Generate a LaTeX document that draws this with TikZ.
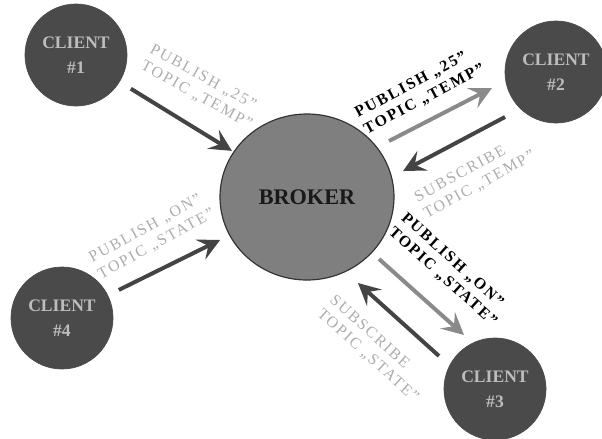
\documentclass[tikz,border=0pt]{standalone}
\usepackage{fontspec}
\setmainfont{Liberation Serif}
\newfontfamily\msgfont[LetterSpace=12]{Liberation Serif}
\usetikzlibrary{arrows.meta,shapes.geometric}

\definecolor{clientfill}{HTML}{4A4A4A}
\definecolor{clienttext}{HTML}{BDBDBD}
\definecolor{brokerfill}{HTML}{7F7F7F}
\definecolor{arrowdark}{HTML}{444444}
\definecolor{arrowlight}{HTML}{8A8A8A}
\definecolor{msggray}{HTML}{ADADAD}

\begin{document}
\begin{tikzpicture}[
    x=0.03cm, y=-0.03cm,
    client/.style={
        circle,
        draw=black!70,
        line width=0.6pt,
        fill=clientfill,
        text=clienttext,
        minimum size=3.06cm,
        align=center,
        font=\fontsize{15}{21}\selectfont\bfseries
    },
    broker/.style={
        ellipse,
        draw=black!80,
        line width=1pt,
        fill=brokerfill,
        text=black!90,
        minimum width=5.22cm,
        minimum height=4.98cm,
        font=\fontsize{19}{24}\selectfont\bfseries
    },
    msg/.style={
        align=left,
        inner sep=0pt,
        font=\msgfont\fontsize{13.5}{16}\selectfont
    },
    msgdark/.style={msg, text=black, font=\msgfont\fontsize{13.5}{16}\selectfont\bfseries},
    darkarr/.style={
        -{Stealth[length=0.66cm, width=0.66cm, inset=0.26cm]},
        line width=3.4pt,
        draw=arrowdark
    },
    lightarr/.style={darkarr, draw=arrowlight}
]

    \useasboundingbox (0,0) rectangle (602,439);

    % Broker
    \node[broker] (broker) at (307,197) {BROKER};

    % Clients
    \node[client] (c1) at (76,55) {CLIENT\\\#1};
    \node[client] (c2) at (556,72) {CLIENT\\\#2};
    \node[client] (c3) at (495,389) {CLIENT\\\#3};
    \node[client] (c4) at (62,318) {CLIENT\\\#4};

    % Client 1 -> Broker
    \draw[darkarr, shorten <=0.39cm, shorten >=0.05cm] (c1) -- (broker);
    \node[msg, text=msggray, rotate=-29] (m1) at (201,87)
        {PUBLISH „25”\\TOPIC „TEMP”};

    % Client 4 -> Broker
    \draw[darkarr, shorten <=0.36cm, shorten >=0.3cm] (c4) -- (broker);
    \node[msg, text=msggray, rotate=29] (m4) at (152,236)
        {PUBLISH „ON”\\TOPIC „STATE”};

    % Broker <-> Client 2
    \coordinate (p2s) at (389,141);
    \coordinate (p2e) at (492,88);
    \coordinate (s2s) at (505,117);
    \coordinate (s2e) at (403,171);
    \draw[lightarr] (p2s) -- (p2e);
    \draw[darkarr] (s2s) -- (s2e);
    \node[msgdark, rotate=28] (m2p) at (420,91)
        {PUBLISH „25”\\TOPIC „TEMP”};
    \node[msg, text=msggray, rotate=29] (m2s) at (475,177)
        {SUBSCRIBE\\TOPIC „TEMP”};

    % Broker <-> Client 3
    \coordinate (p3s) at (379,259);
    \coordinate (p3e) at (464,335);
    \coordinate (s3s) at (439,356);
    \coordinate (s3e) at (358,283);
    \draw[lightarr] (p3s) -- (p3e);
    \draw[darkarr] (s3s) -- (s3e);
    \node[msgdark, rotate=-42] (m3p) at (449,270)
        {PUBLISH „ON”\\TOPIC „STATE”};
    \node[msg, text=msggray, rotate=-42] (m3s) at (374,349)
        {SUBSCRIBE\\TOPIC „STATE”};

\end{tikzpicture}
\end{document}
